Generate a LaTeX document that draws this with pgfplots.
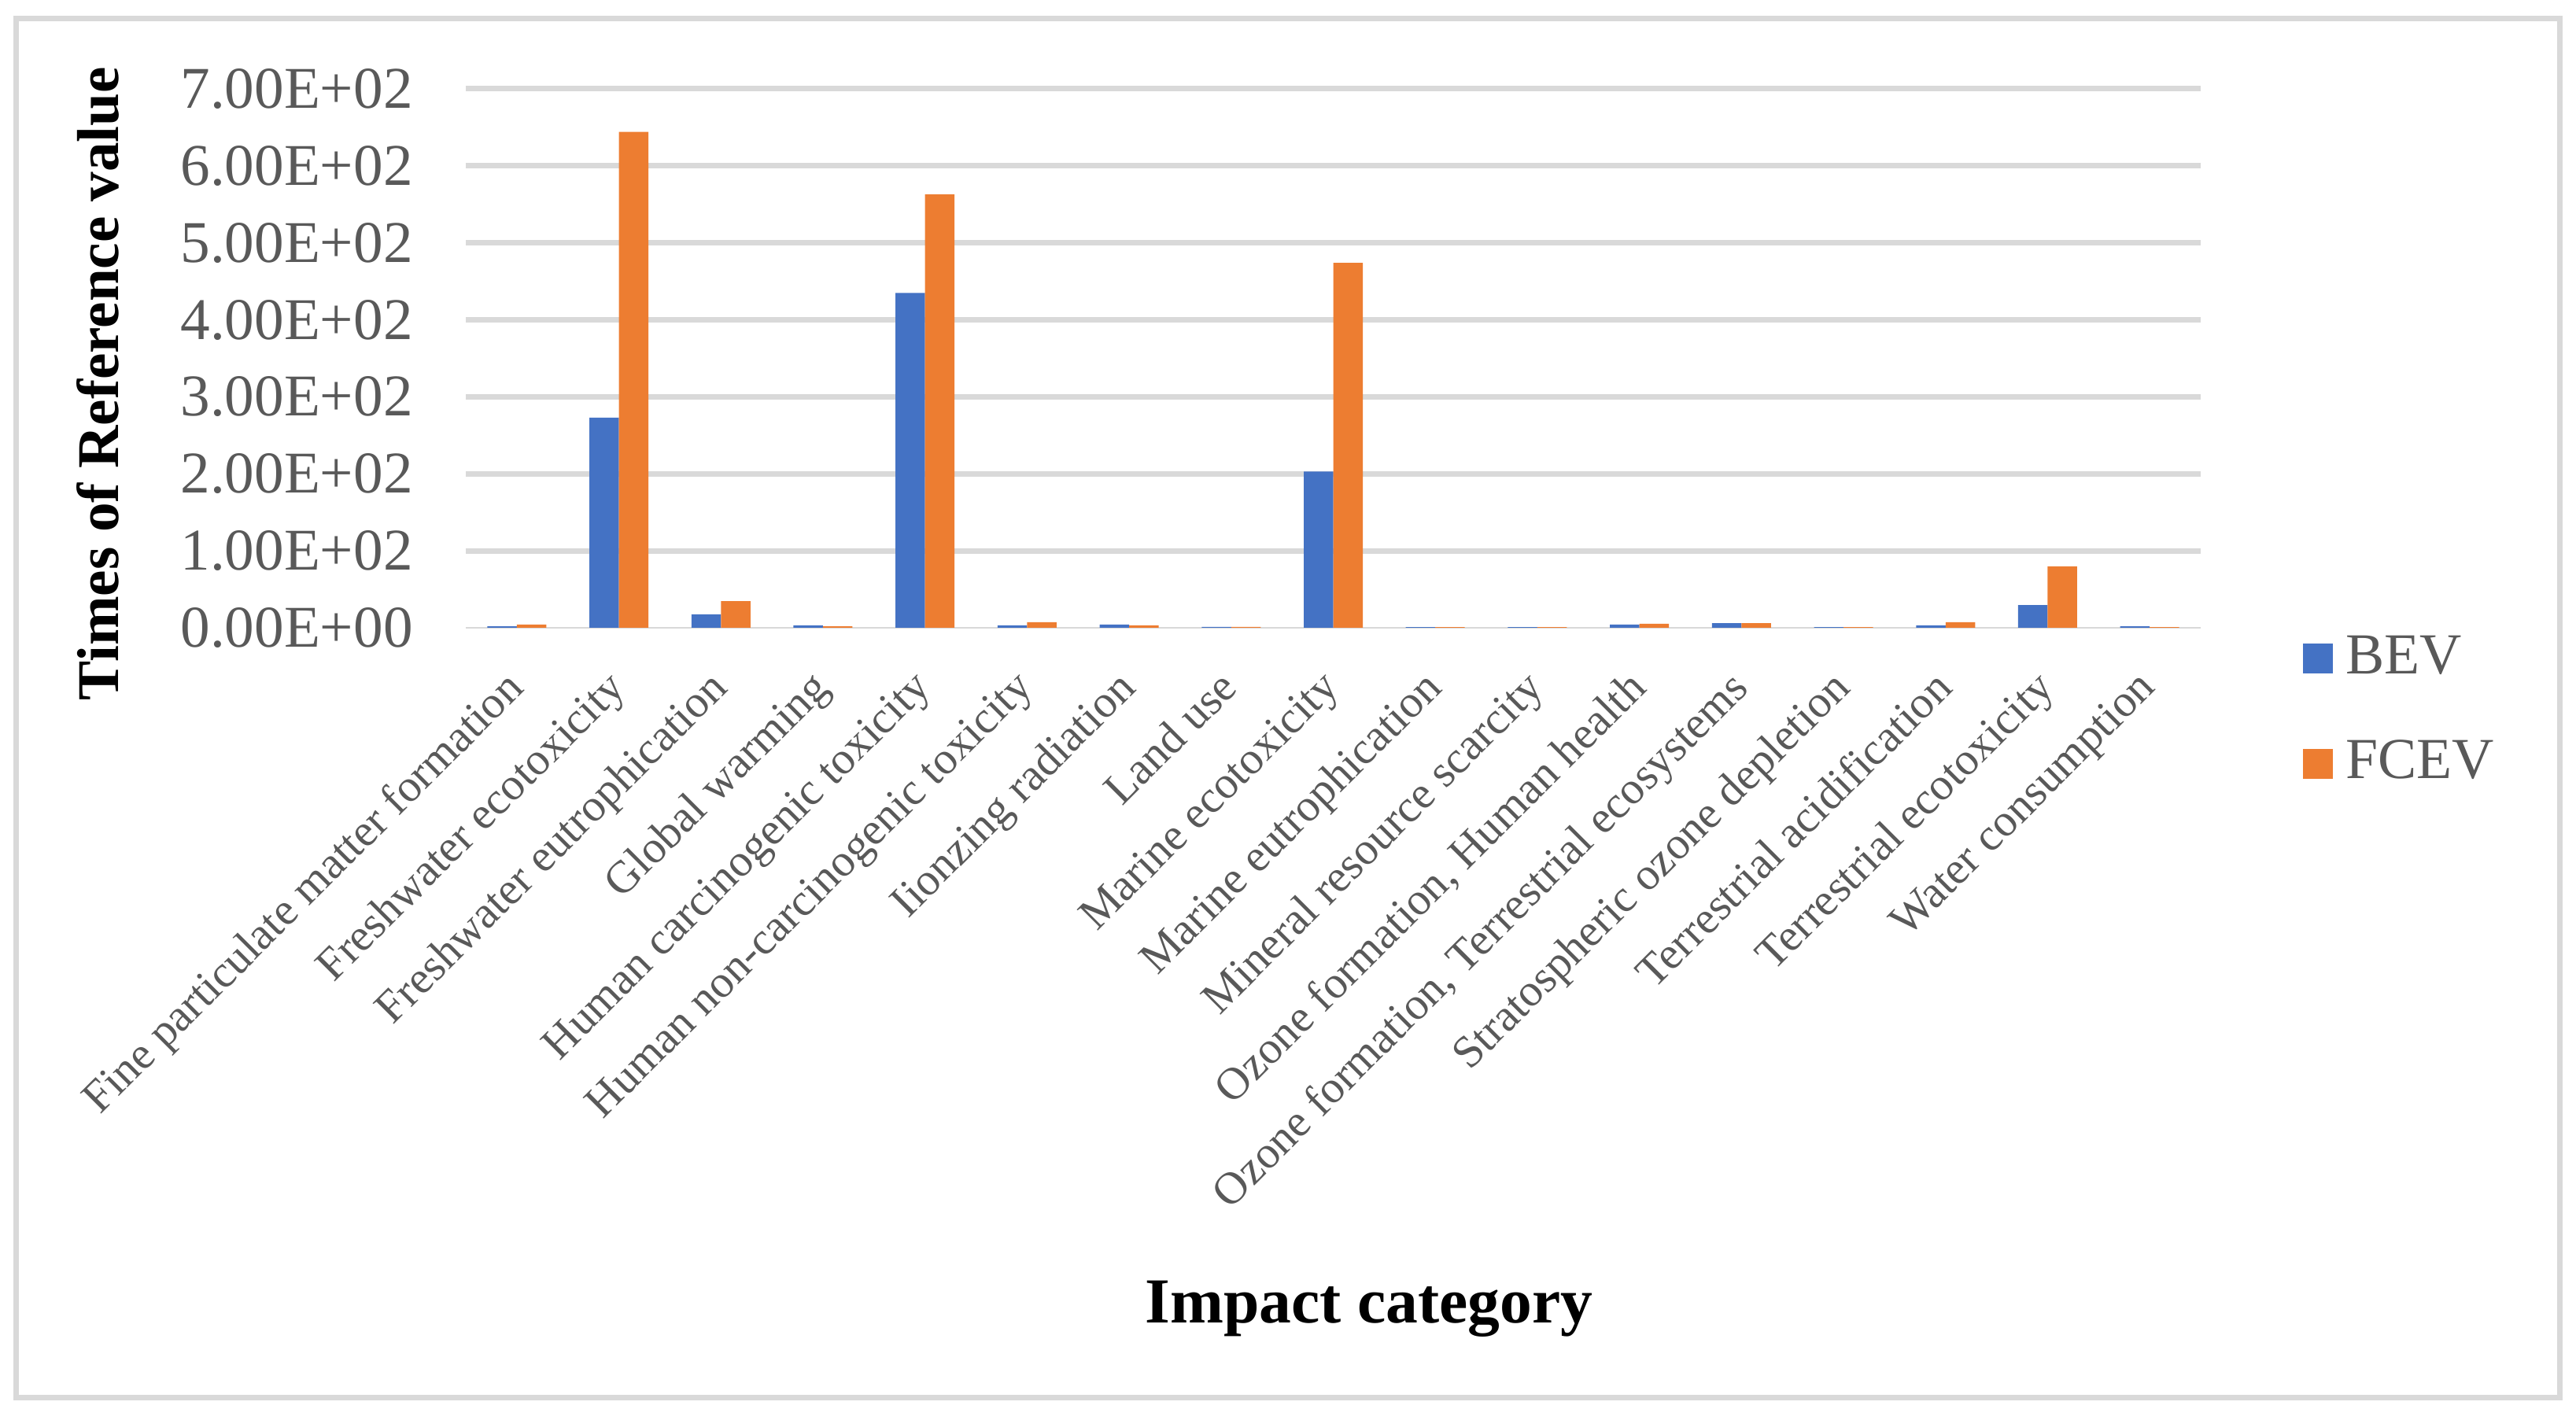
\documentclass[border=0pt]{standalone}
\usepackage{fontspec}
\setmainfont{Liberation Serif}
\usepackage{pgfplots}
\pgfplotsset{compat=1.18}

\definecolor{bevblue}{HTML}{4472C4}
\definecolor{fcevorange}{HTML}{ED7D31}
\definecolor{gridgray}{HTML}{D9D9D9}
\definecolor{txtgray}{HTML}{595959}

% BEV and FCEV, times of reference value
\pgfplotstableread{
x bev fcev
1 2.0 4.1
2 273 644
3 17.4 34.7
4 3.1 2.0
5 435 563
6 3.1 7.2
7 4.1 3.1
8 1.2 1.2
9 203 474
10 1.0 1.0
11 1.0 1.0
12 4.1 5.1
13 6.1 6.1
14 1.0 1.0
15 3.1 7.2
16 29.6 79.7
17 2.0 1.0
}\impact

\begin{document}
\begin{tikzpicture}
\useasboundingbox (0,0) rectangle (163.7mm,89.55mm);
\draw[gridgray, line width=0.35mm] (1mm,0.7mm) rectangle (162.65mm,88.35mm);
\begin{axis}[
    at={(29.6mm,49.65mm)}, anchor=south west,
    scale only axis,
    width=110.25mm, height=34.25mm,
    ybar=0pt, bar width=1.875mm,
    xmin=0.5, xmax=17.5,
    ymin=0, ymax=700,
    xtick={1,...,17},
    xticklabels={Fine particulate matter formation, Freshwater ecotoxicity,
      Freshwater eutrophication, Global warming, Human carcinogenic toxicity,
      Human non-carcinogenic toxicity, Iionzing radiation, Land use,
      Marine ecotoxicity, Marine eutrophication, Mineral resource scarcity,
      {Ozone formation, Human health}, {Ozone formation, Terrestrial ecosystems},
      Stratospheric ozone depletion, Terrestrial acidification,
      Terrestrial ecotoxicity, Water consumption},
    xticklabel style={xshift=-0.9mm, yshift=-2.45mm, rotate=45, anchor=north east,
      inner sep=0pt, text=txtgray, font=\fontsize{8.2}{10}\selectfont},
    ytick={100,200,...,700},
    yticklabels={1.00E+02,2.00E+02,3.00E+02,4.00E+02,5.00E+02,6.00E+02,7.00E+02},
    extra y ticks={0},
    extra y tick labels={0.00E+00},
    extra y tick style={grid=none},
    yticklabel style={text=txtgray, font=\fontsize{10.7}{12}\selectfont,
      anchor=east, inner sep=0pt, xshift=-3.3mm},
    ymajorgrids,
    grid style={gridgray, line width=0.35mm},
    major tick length=0pt,
    axis lines*=left,
    x axis line style={gridgray, line width=0.1mm},
    y axis line style={draw=none},
    ylabel={\textbf{Times of Reference value}},
    ylabel style={at={(axis description cs:-0.2118,0.4526)}, anchor=center,
      font=\fontsize{10.7}{12}\selectfont},
    xlabel={\textbf{Impact category}},
    xlabel style={at={(axis description cs:0,0)}, anchor=base,
      xshift=57.4mm, yshift=-44.2mm, font=\fontsize{11.6}{13}\selectfont},
    legend style={draw=none, fill=none, at={(axis description cs:1.0581,-0.155)},
      anchor=west, inner sep=0pt, row sep=3.7mm,
      font=\fontsize{10.5}{12}\selectfont, text=txtgray,
      nodes={inner sep=0pt, anchor=west}},
    legend cell align=left,
    legend image code/.code={\fill[#1] (0mm,-0.95mm) rectangle (1.9mm,0.95mm);
      \path (2.75mm,0mm);},
]
\addplot[fill=bevblue, draw=none] table[x=x, y=bev] {\impact};
\addplot[fill=fcevorange, draw=none] table[x=x, y=fcev] {\impact};
\legend{BEV, FCEV}
\end{axis}
\end{tikzpicture}
\end{document}
